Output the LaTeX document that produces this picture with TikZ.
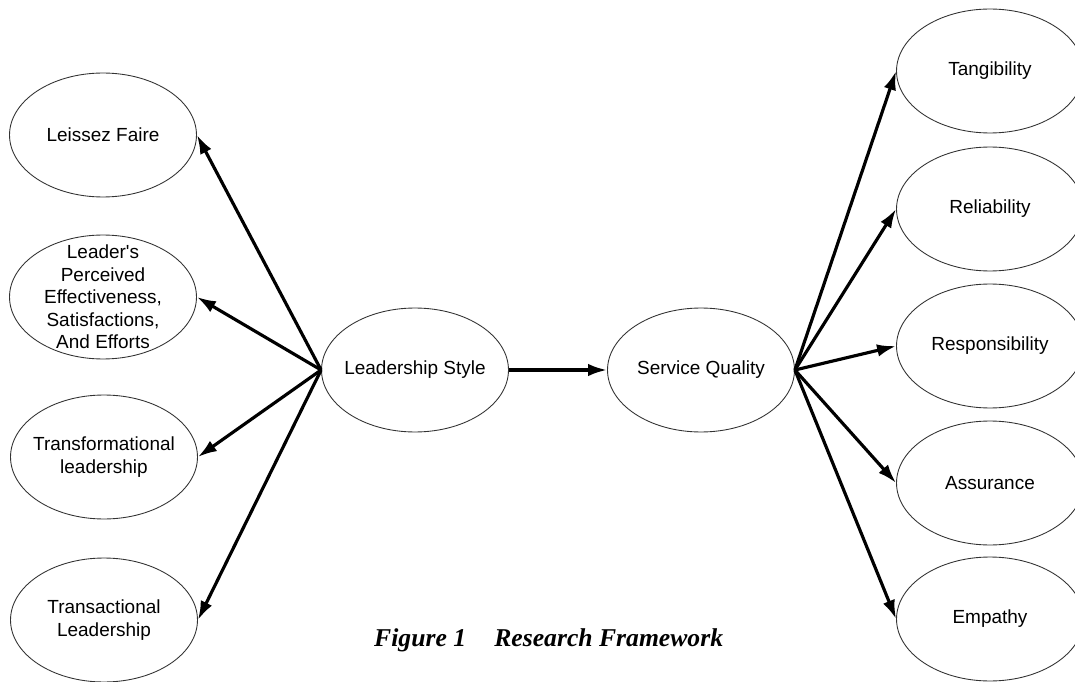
\documentclass[tikz,border=0pt]{standalone}
\usepackage{fontspec}
\setsansfont{Liberation Sans}
\newfontfamily\captionserif{Liberation Serif}
\usetikzlibrary{shapes.geometric,arrows.meta}

\begin{document}
\begin{tikzpicture}[x=0.02cm, y=-0.02cm,
                every node/.append style={font=\sffamily\fontsize{10.8}{12.8}\selectfont},
                factor/.style={ellipse, draw=black!80, line width=0.5pt, inner sep=0pt,
                    minimum width=3.74cm, minimum height=2.48cm},
                link/.style={-{Latex[length=3.8mm,width=2.5mm]}, line width=1.8pt}]
                \clip (0,0) rectangle (1075,682);
                % factors, text set apart so the ellipses keep one size
                \foreach \name/\pos/\txt in {
                    style/{415,370}/{Leadership Style},
                    quality/{701,370}/{Service Quality},
                    laissez/{103,135}/{Leissez Faire},
                    perceived/{103,297}/{Leader\textquotesingle s\\Perceived\\Effectiveness,\\Satisfactions,\\And Efforts},
                    transform/{104,457}/{Transformational\\leadership},
                    transact/{104,620}/{Transactional\\Leadership},
                    tangible/{990,71}/{Tangibility},
                    reliable/{990,209}/{Reliability},
                    respons/{990,346}/{Responsibility},
                    assure/{990,483}/{Assurance},
                    empathy/{990,619}/{Empathy}}
                {
                \node [factor] (\name) at (\pos) {};
                \node [align=center] (\name-text) at (\name.center) {\txt};
                }
                \draw [link] (style.east) -- (quality.west);
                \foreach \dim in {laissez, perceived, transform, transact}
                    \draw [link] (style.west) -- (\dim.east);
                \foreach \dim in {tangible, reliable, respons, assure, empathy}
                    \draw [link] (quality.east) -- (\dim.west);
                \node [anchor=base west, font=\captionserif\bfseries\itshape\fontsize{14.6}{16}\selectfont]
                    (caption) at (368,646) {Figure 1\hspace{1.1em}Research Framework};
\end{tikzpicture}
\end{document}
